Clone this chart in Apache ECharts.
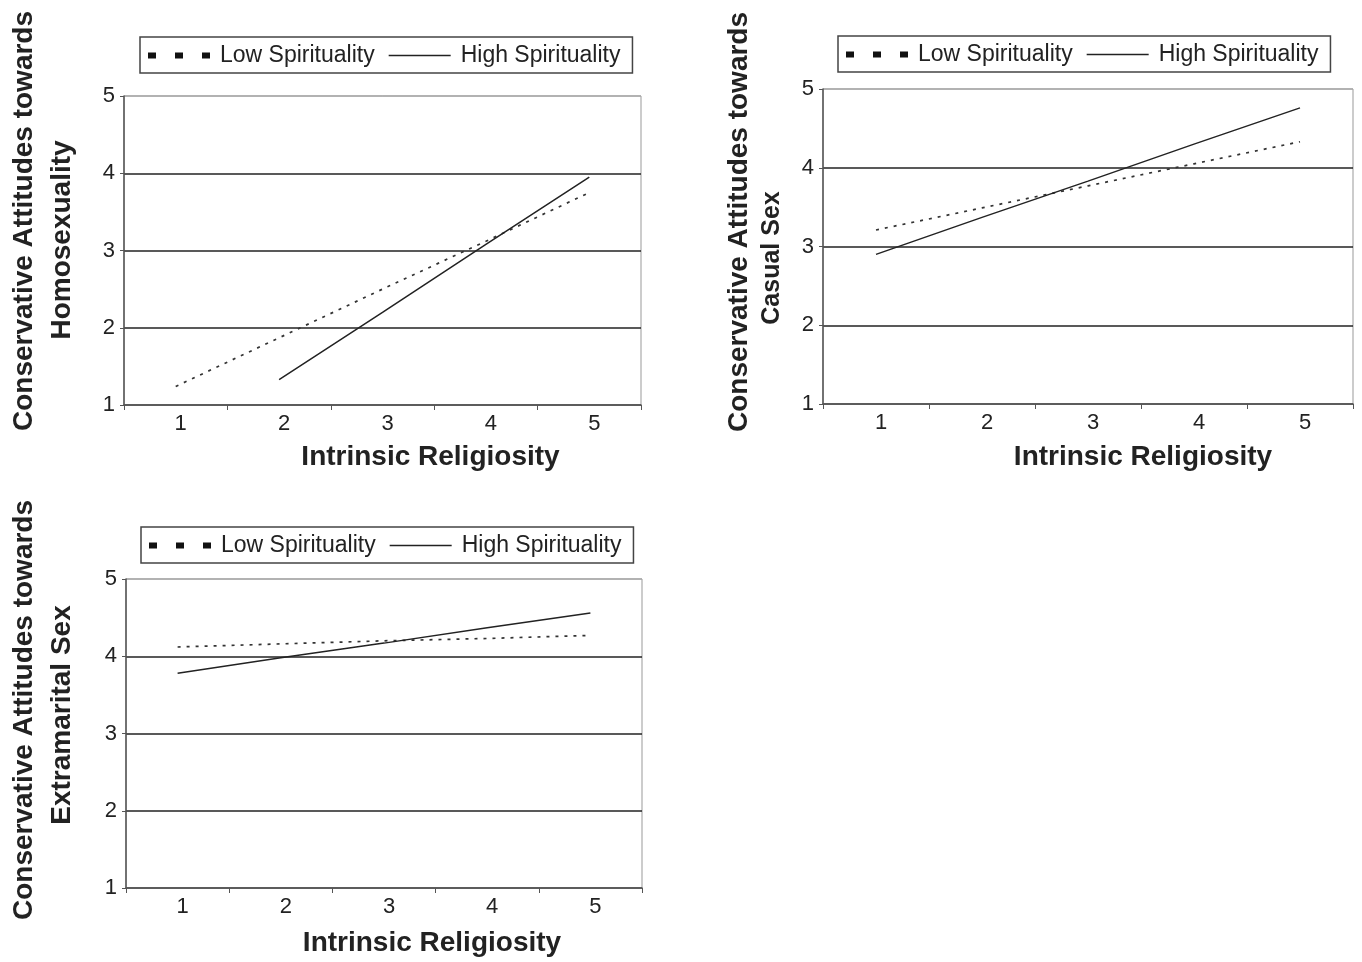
<!DOCTYPE html>
<html>
<head>
    <meta charset="utf-8">
    <title>ECharts</title>
    <script src="https://cdn.jsdelivr.net/npm/echarts@6/dist/echarts.min.js"></script>
</head>
<body style="margin:0;background:#fff;">
    <div id="main" style="width: 1362px;height:962px;"></div>
    <script type="text/javascript">
        var myChart = echarts.init(document.getElementById('main'));

        // x categories (Intrinsic Religiosity) and y ticks
        var religiosity = ['1', '2', '3', '4', '5'];
        var yMin = 1, yMax = 5, yStep = 1;

        // Homosexuality panel
        var homoLow  = [1.24, 1.87, 2.50, 3.12, 3.75];
        var homoHigh = [null, 1.33, 2.20, 3.08, 3.95];
        // Casual sex panel
        var casualLow  = [3.21, 3.49, 3.77, 4.05, 4.33];
        var casualHigh = [2.90, 3.37, 3.83, 4.30, 4.76];
        // Extramarital sex panel
        var extraLow  = [4.12, 4.16, 4.20, 4.23, 4.27];
        var extraHigh = [3.78, 3.98, 4.17, 4.37, 4.56];

        var FONT = '"Liberation Sans", Arial, Helvetica, sans-serif';
        var INK = '#222';

        var grids = [
            {left: 124, top: 96, width: 517, height: 309},
            {left: 823, top: 89, width: 530, height: 315},
            {left: 126, top: 579, width: 516, height: 309}
        ];
        var legendPos = [
            {left: 140, top: 37},
            {left: 838, top: 36},
            {left: 141, top: 527}
        ];
        var nameShift = [96, 110, 96];   // x axis title sits right of grid centre
        var nameGaps = [38, 39, 41];

        // legend icons: three square dots / thin solid line
        var dotsIcon = 'path://M0,0h8v6h-8z M27,0h8v6h-8z M54,0h8v6h-8z';
        var lineIcon = 'path://M0,0h62v1.6h-62z';

        function xAxisFor(i) {
            return {
                type: 'category',
                gridIndex: i,
                data: religiosity,
                boundaryGap: true,
                name: 'Intrinsic Religiosity',
                nameLocation: 'middle',
                nameGap: nameGaps[i],
                nameTextStyle: {
                    fontFamily: FONT, fontSize: 28, fontWeight: 'bold', color: INK,
                    padding: [0, 0, 0, nameShift[i]]
                },
                axisLine: {lineStyle: {color: '#555', width: 1.5}},
                axisTick: {show: true, length: 5, lineStyle: {color: '#555'}},
                axisLabel: {fontFamily: FONT, fontSize: 22, color: INK, margin: 8, padding: [0, 0, 0, 10]},
                splitLine: {show: false}
            };
        }

        function yAxisFor(i) {
            return {
                type: 'value',
                gridIndex: i,
                min: yMin,
                max: yMax,
                interval: yStep,
                axisLine: {show: true, lineStyle: {color: '#555', width: 1.5}},
                axisTick: {show: true, length: 4, lineStyle: {color: '#555'}},
                axisLabel: {fontFamily: FONT, fontSize: 22, color: INK, margin: 9},
                splitLine: {show: true, lineStyle: {color: ['#555', '#222', '#222', '#222', '#aaa'], width: 1.5}}
            };
        }

        function legendFor(i) {
            return {
                left: legendPos[i].left,
                top: legendPos[i].top,
                orient: 'horizontal',
                backgroundColor: '#fff',
                borderColor: '#444',
                borderWidth: 1.5,
                borderRadius: 0,
                padding: [7, 12, 6, 8],
                itemGap: 14,
                itemWidth: 62,
                itemHeight: 20,
                symbolKeepAspect: true,
                textStyle: {fontFamily: FONT, fontSize: 23, color: INK, padding: [0, 0, 0, 5]},
                data: [
                    {name: 'Low Spirituality', icon: dotsIcon,
                        itemStyle: {color: '#111', borderWidth: 0}},
                    {name: 'High Spirituality', icon: lineIcon,
                        itemStyle: {color: '#222', borderWidth: 0}}
                ],
                selectedMode: false
            };
        }

        function seriesFor(i, low, high) {
            return [
                {
                    name: 'Low Spirituality',
                    type: 'line',
                    xAxisIndex: i,
                    yAxisIndex: i,
                    data: low,
                    showSymbol: false,
                    symbol: 'none',
                    lineStyle: {color: '#333', width: 1.7, type: [3, 6]},
                    itemStyle: {color: '#333'},
                    z: 3
                },
                {
                    name: 'High Spirituality',
                    type: 'line',
                    xAxisIndex: i,
                    yAxisIndex: i,
                    data: high,
                    showSymbol: false,
                    symbol: 'none',
                    lineStyle: {color: '#222', width: 1.5, type: 'solid'},
                    itemStyle: {color: '#222'},
                    z: 4
                }
            ];
        }

        function vText(x, y, text, size) {
            return {
                type: 'text',
                x: x,
                y: y,
                rotation: Math.PI / 2,
                style: {
                    text: text,
                    font: 'bold ' + (size || 28) + 'px ' + FONT,
                    fill: INK,
                    align: 'center',
                    verticalAlign: 'middle'
                }
            };
        }

        option = {
            backgroundColor: '#fff',
            animation: false,
            grid: grids.map(function (g) {
                return {left: g.left, top: g.top, width: g.width, height: g.height,
                    show: true, borderColor: '#999', borderWidth: 1, backgroundColor: 'transparent'};
            }),
            legend: [legendFor(0), legendFor(1), legendFor(2)],
            xAxis: [xAxisFor(0), xAxisFor(1), xAxisFor(2)],
            yAxis: [yAxisFor(0), yAxisFor(1), yAxisFor(2)],
            series: [].concat(
                seriesFor(0, homoLow, homoHigh),
                seriesFor(1, casualLow, casualHigh),
                seriesFor(2, extraLow, extraHigh)
            ),
            graphic: [
                vText(24, 221, 'Conservative Attitudes towards'),
                vText(62, 240, 'Homosexuality'),
                vText(739, 222, 'Conservative Attitudes towards'),
                vText(772, 258, 'Casual Sex', 25),
                vText(24, 710, 'Conservative Attitudes towards'),
                vText(62, 715, 'Extramarital Sex')
            ]
        };

        myChart.setOption(option);
    </script>
</body>
</html>
